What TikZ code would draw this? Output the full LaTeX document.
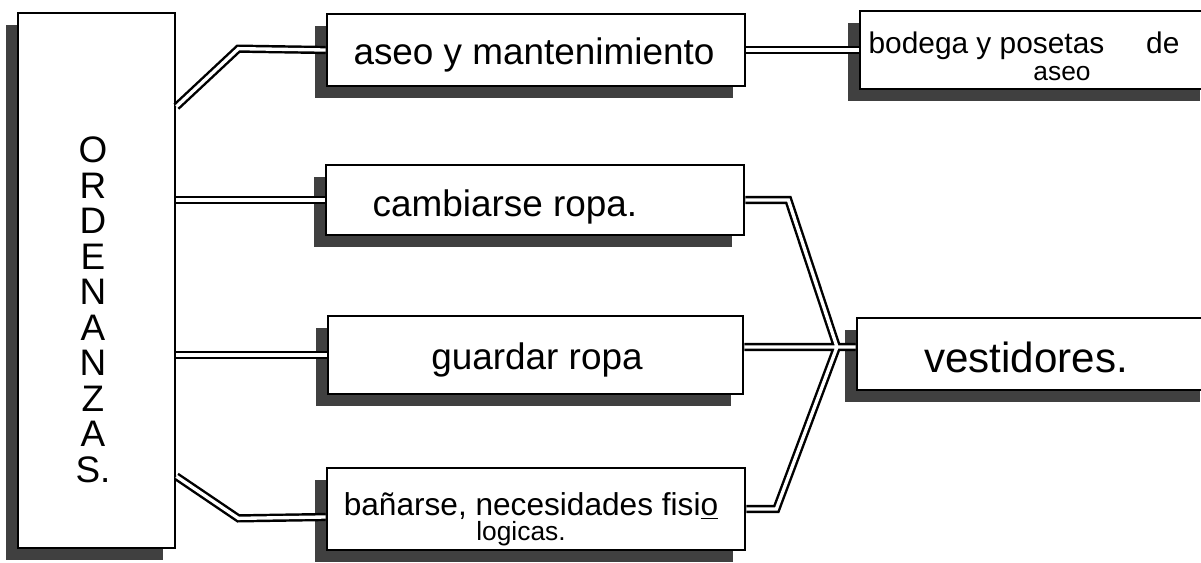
\documentclass[tikz,border=0pt]{standalone}
\usepackage{fontspec}
\setmainfont{Liberation Sans}
\usepackage{tikz}
\usetikzlibrary{shadows,calc}

\begin{document}
\begin{tikzpicture}[x=0.02cm,y=-0.02cm,
    box/.style={draw,line width=1.6pt,fill=white,inner sep=0pt,
      general shadow={fill=black!75,shadow xshift=-6.8pt,shadow yshift=-6.8pt}},
    link/.style={line width=1.4pt,double=white,double distance=1.9pt},
    hand/.style={font=\fontsize{#1}{#1}\selectfont,align=center}]
  \useasboundingbox (0,0) rectangle (1201,562);
  \node[box,minimum width=3.14cm,minimum height=10.7cm] (ord) at (96.5,280.5) {};
  \foreach \name/\x/\y/\w/\h in {aseo/536/50/8.36/1.44,cambiar/535/200/8.36/1.4,
      guardar/535.5/355/8.3/1.56,banar/536/509/8.36/1.64,
      bodega/1036/50/7.04/1.56,vest/1034.5/354/7.1/1.44}
    \node[box,minimum width=\w cm,minimum height=\h cm] (\name) at (\x,\y) {};
  \foreach \l [count=\i] in {O,R,D,E,N,A,N,Z,A,S.}
    \node[hand=21,inner sep=0pt] (ord\i) at (93,150+35.5*\i-35.5) {\l};
  \node[hand=21] (aseotxt) at (534,55) {aseo y mantenimiento};
  \node[hand=21] (cambiartxt) at (505,207) {cambiarse ropa.};
  \node[hand=21] (guardartxt) at (537,360) {guardar ropa};
  \node[hand=18,inner sep=0pt] (banartxt) at (531,506) {bañarse, necesidades fisi\underline{o}};
  \node[hand=15,inner sep=0pt] (banartxtb) at (521,534) {logicas.};
  \node[hand=17] (bodegatxt) at (1024,46) {bodega y posetas\hspace{1.4em}de};
  \node[hand=15,inner sep=0pt] (bodegatxtb) at (1062,74) {aseo};
  \node[hand=24] (vesttxt) at (1026,357) {vestidores.};
  \coordinate (hub) at (837,347);
  \draw[link] ($(ord.north east)+(0,95)$) -- ++(62,-58) -- (aseo.west);
  \draw[link] (ord.east |- cambiar.west) -- (cambiar.west);
  \draw[link] (ord.east |- guardar.west) -- (guardar.west);
  \draw[link] ($(ord.south east)+(0,-73)$) -- ++(62,42) -- ($(banar.west)+(0,8)$);
  \draw[link] (aseo.east) -- (bodega.west);
  \draw[link] (cambiar.east) -- ++(43,0) -- (hub)
    (guardar.east |- hub) -- (hub)
    (banar.east) -- ++(30,0) -- (hub)
    (hub) -- (hub -| vest.west);
\end{tikzpicture}
\end{document}
